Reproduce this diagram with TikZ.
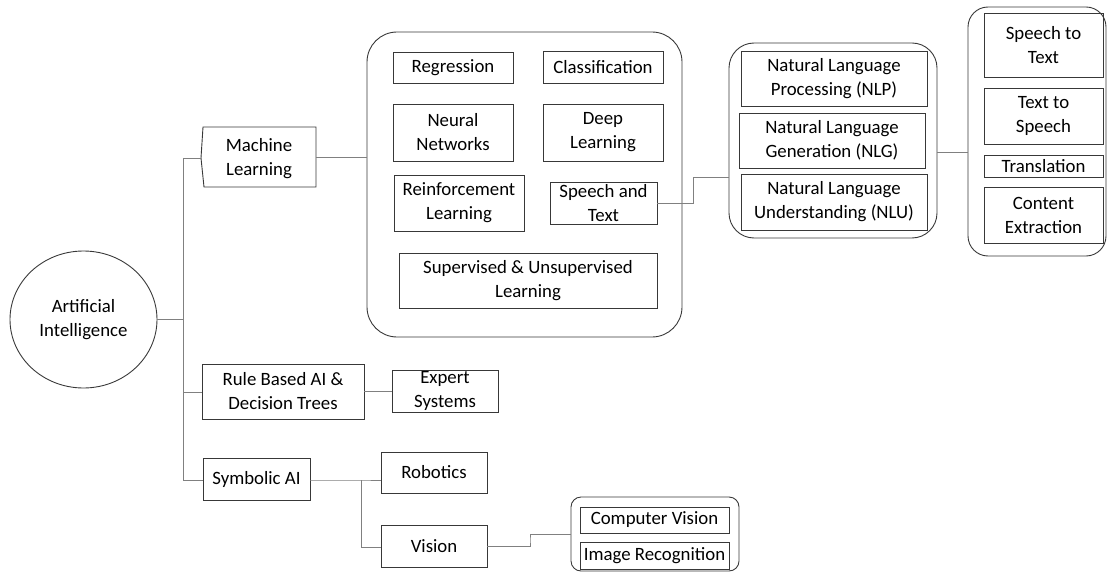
\documentclass[tikz,border=0pt]{standalone}
\usepackage{fontspec}
\setmainfont{Carlito}
\usetikzlibrary{shapes.geometric}
\begin{document}
\begin{tikzpicture}[x=1pt,y=-1pt,
  every node/.style={font=\fontsize{18.8}{24}\selectfont, align=center, inner sep=0pt, text=black},
  box/.style={draw=black!78, line width=0.9pt, rectangle},
  grp/.style={draw=black!78, line width=0.9pt, rectangle},
  conn/.style={draw=black!50, line width=0.9pt}]
\useasboundingbox (0,0) rectangle (1107,572);
% root
\node[draw=black!78, line width=0.9pt, ellipse, minimum width=147pt, minimum height=137pt] (AI) at (83.5,319.5) {Artificial\\Intelligence};
% level 1
\node[minimum width=114pt, minimum height=60pt] (ML) at (259,158.5) {Machine\\Learning};
\draw[draw=black!78, line width=0.9pt] (203,127) -- (316,127) -- (316,187) -- (204,187) -- (201,158) -- cycle;
\node[box, minimum width=162pt, minimum height=55pt] (Rule) at (283,391.5) {Rule Based AI \&\\Decision Trees};
\node[box, minimum width=106pt, minimum height=42pt] (Exp) at (445,391) {Expert\\Systems};
\node[box, minimum width=107pt, minimum height=42pt] (Sym) at (256.5,479) {Symbolic AI};
\node[box, minimum width=106pt, minimum height=41pt] (Rob) at (434,472.5) {Robotics};
\node[box, minimum width=106pt, minimum height=42pt] (Vis) at (434,546) {Vision};
% vision group
\node[grp, rounded corners=10pt, minimum width=168pt, minimum height=74pt] (CVg) at (655,534) {};
\node[box, minimum width=149pt, minimum height=26pt] (CV) at (654.5,520) {Computer Vision};
\node[box, minimum width=149pt, minimum height=27pt] (IR) at (654.5,555.5) {Image Recognition};
% machine learning group
\node[grp, rounded corners=30pt, minimum width=315pt, minimum height=305pt] (MLg) at (524.5,184.5) {};
\node[box, minimum width=120pt, minimum height=31pt] (Reg) at (453,67.5) {Regression};
\node[box, minimum width=120pt, minimum height=32pt] (Cls) at (603,67) {Classification};
\node[box, minimum width=120pt, minimum height=57pt] (NN) at (453,132.5) {Neural\\Networks};
\node[box, minimum width=120pt, minimum height=57pt] (DL) at (603,132.5) {Deep\\Learning};
\node[box, minimum width=130pt, minimum height=56pt] (RL) at (459,203) {Reinforcement\\Learning};
\node[box, minimum width=107pt, minimum height=42pt] (ST) at (603.5,203) {Speech and\\Text};
\node[box, minimum width=258pt, minimum height=55pt] (SU) at (528,280.5) {Supervised \& Unsupervised\\Learning};
% NL group
\node[grp, rounded corners=25pt, minimum width=208pt, minimum height=195pt] (NLg) at (833,140.5) {};
\node[box, minimum width=186pt, minimum height=55pt] (NLP) at (834,78.5) {Natural Language\\Processing (NLP)};
\node[box, minimum width=186pt, minimum height=55pt] (NLG) at (832,140.5) {Natural Language\\Generation (NLG)};
\node[box, minimum width=186pt, minimum height=56pt] (NLU) at (834,202) {Natural Language\\Understanding (NLU)};
% right group
\node[grp, rounded corners=20pt, minimum width=138pt, minimum height=249pt] (RG) at (1037,131.5) {};
\node[box, minimum width=119pt, minimum height=64pt] (STT) at (1043.5,45) {Speech to\\Text};
\node[box, minimum width=119pt, minimum height=56pt] (TTS) at (1043.5,116) {Text to\\Speech};
\node[box, minimum width=119pt, minimum height=22pt] (TR) at (1043.5,166) {Translation};
\node[box, minimum width=119pt, minimum height=56pt] (CE) at (1043.5,215) {Content\\Extraction};
% connectors
\coordinate (t1) at (183,158);
\coordinate (t2) at (183,392);
\coordinate (t3) at (183,480);
\draw[conn] (t1) -- (t3);
\draw[conn] (AI.east) -- (AI.east -| t1);
\draw[conn] (t1) -- (201,158);
\draw[conn] (t2) -- (t2 -| Rule.west);
\draw[conn] (t3) -- (t3 -| Sym.west);
\draw[conn] (316,157) -- (MLg.west |- 0,157);
\draw[conn] (Rule.east) -- (Rule.east -| Exp.west);
\coordinate (s1) at (361,480);
\coordinate (s2) at (361,547);
\draw[conn] (s1 -| Sym.east) -- (s1) -- (s1 -| Rob.west);
\draw[conn] (s1) -- (s2) -- (s2 -| Vis.west);
\coordinate (v1) at (530,540);
\draw[conn] (Vis.east) -| (v1) |- (CVg.west);
\coordinate (n1) at (693,190);
\draw[conn] (ST.east) -| (n1) |- (NLg.west |- 0,177);
\draw[conn] (NLg.east |- 0,152) -- (RG.west |- 0,152);
\end{tikzpicture}
\end{document}
